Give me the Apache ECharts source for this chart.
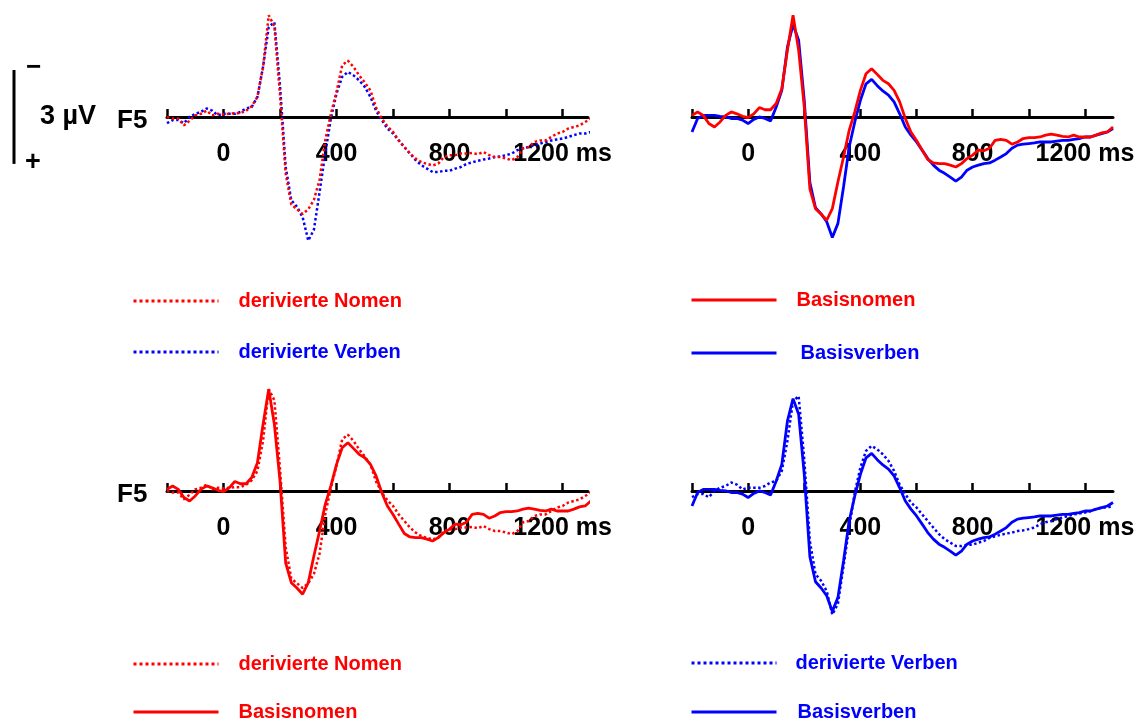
<!DOCTYPE html>
<html><head><meta charset="utf-8">
<script src="https://cdn.jsdelivr.net/npm/echarts@6/dist/echarts.min.js"></script>
<style>html,body{margin:0;padding:0;background:#fff}#c{width:1142px;height:724px}</style>
</head><body><div id="c"></div>
<script>
// time in ms
const times = [-200,-180,-160,-140,-120,-100,-80,-60,-40,-20,0,20,40,60,80,100,120,140,160,180,
  200,220,240,260,280,300,320,340,360,380,400,420,440,460,480,500,520,540,560,580,
  600,620,640,660,680,700,720,740,760,780,800,820,840,860,880,900,920,940,960,980,
  1000,1020,1040,1060,1080,1100,1120,1140,1160,1180,1200,1220,1240,1260,1280,1300];
// amplitudes in µV (negative up)
const derivedNouns = [0.0,0.05,0.05,0.27,0.12,-0.05,-0.1,-0.2,-0.05,-0.1,-0.08,-0.1,-0.12,-0.12,-0.2,-0.34,-0.64,-1.6,-3.25,-2.9,
  -0.7,1.8,2.8,2.95,3.1,2.95,2.65,2.0,0.75,-0.1,-0.8,-1.65,-1.8,-1.6,-1.33,-1.1,-0.85,-0.3,0.05,0.3,
  0.48,0.75,0.96,1.17,1.33,1.44,1.5,1.55,1.49,1.28,1.22,1.22,1.17,1.17,1.15,1.19,1.12,1.22,1.28,1.28,
  1.33,1.38,1.28,1.0,0.96,0.8,0.75,0.75,0.64,0.53,0.48,0.37,0.32,0.27,0.16,0.05];
const derivedVerbs = [0.2,0.1,0.1,0.2,0.0,-0.1,-0.16,-0.27,-0.2,-0.05,-0.1,-0.1,-0.1,-0.16,-0.27,-0.32,-0.64,-1.6,-2.87,-3.03,
  -1.0,1.6,2.66,2.87,3.2,3.95,3.6,2.4,1.17,0.05,-0.75,-1.28,-1.44,-1.33,-1.17,-0.96,-0.64,-0.2,0.1,0.37,
  0.53,0.75,0.96,1.17,1.38,1.54,1.65,1.76,1.76,1.72,1.72,1.65,1.6,1.5,1.45,1.4,1.36,1.33,1.28,1.26,
  1.22,1.17,1.06,1.0,0.96,0.9,0.85,0.8,0.75,0.72,0.69,0.64,0.58,0.53,0.53,0.48];
const baseNouns = [-0.05,-0.16,-0.05,0.21,0.32,0.16,-0.05,-0.16,-0.1,-0.02,0.02,-0.1,-0.3,-0.23,-0.23,-0.43,-0.9,-2.13,-3.25,-2.13,
  -0.32,2.3,2.93,3.1,3.3,2.93,2.07,1.28,0.43,-0.16,-0.85,-1.38,-1.54,-1.36,-1.17,-1.06,-0.85,-0.48,0.05,0.48,
  0.75,1.06,1.36,1.47,1.49,1.49,1.54,1.6,1.49,1.33,1.22,1.06,1.08,1.0,0.75,0.72,0.75,0.87,0.8,0.69,
  0.66,0.66,0.64,0.58,0.55,0.58,0.62,0.64,0.58,0.64,0.64,0.64,0.58,0.51,0.48,0.32];
const baseVerbs = [0.48,0.05,-0.05,-0.05,-0.05,-0.02,0.0,0.05,0.05,0.1,0.21,0.08,0.0,0.05,0.13,-0.32,-0.85,-2.23,-2.95,-2.45,
  -0.53,2.1,2.9,3.1,3.35,3.85,3.4,2.23,0.96,0.16,-0.53,-1.06,-1.2,-1.0,-0.83,-0.7,-0.48,-0.1,0.32,0.58,
  0.8,1.06,1.33,1.54,1.7,1.8,1.92,2.05,1.92,1.7,1.6,1.54,1.49,1.47,1.38,1.28,1.17,1.0,0.9,0.87,
  0.85,0.83,0.8,0.8,0.8,0.77,0.75,0.75,0.72,0.69,0.64,0.64,0.58,0.53,0.48,0.37];

const seriesNames = {dn:'derivierte Nomen', dv:'derivierte Verben', bn:'Basisnomen', bv:'Basisverben'};
const tickValues = [-200,0,200,400,600,800,1000,1200];
const labelValues = [0,400,800,1200];
const labelTexts = ['0','400','800','1200 ms'];
const channelName = 'F5';
const scaleText = '3 µV';
const scaleRange = [-1.5, 1.5];

const RED = '#ff0000', BLUE = '#0000ff';
const FONT = "'Liberation Sans', Arial, sans-serif";
const pair = arr => times.map((t, i) => [t, arr[i]]);

const chart = echarts.init(document.getElementById('c'), null, {renderer: 'canvas'});

const grids = [
  {left: 167, top: 7.4, width: 421, height: 250.4},
  {left: 692, top: 7.4, width: 421, height: 250.4},
  {left: 167, top: 381.4, width: 421, height: 250.4},
  {left: 692, top: 381.4, width: 421, height: 250.4}
];
const xMax = [1290, 1300, 1290, 1300];

const xAxes = grids.map((g, i) => ({
  gridIndex: i, type: 'value', min: -200, max: xMax[i],
  axisLine: {onZero: false, lineStyle: {color: '#000', width: 3}},
  axisTick: {inside: true, length: 8, customValues: tickValues, lineStyle: {color: '#000', width: 2.5}},
  axisLabel: {customValues: labelValues, margin: 25, color: '#000', fontSize: 25, fontWeight: 'bold', fontFamily: FONT,
    formatter: v => labelTexts[labelValues.indexOf(v)] || ''},
  splitLine: {show: false}
}));
const yAxes = grids.map((g, i) => ({
  gridIndex: i, type: 'value', inverse: true, min: -3.5, max: 4.5, show: false
}));

function ln(name, arr, panel, color, dotted) {
  return {
    type: 'line', name, data: pair(arr), xAxisIndex: panel, yAxisIndex: panel,
    symbol: 'none', animation: false, silent: true, clip: true,
    lineStyle: {color, width: dotted ? 2.5 : 2.8, type: dotted ? 'dotted' : 'solid'},
    itemStyle: {color}
  };
}

const series = [
  ln(seriesNames.dv, derivedVerbs, 0, BLUE, true),
  ln(seriesNames.dn, derivedNouns, 0, RED, true),
  ln(seriesNames.bv, baseVerbs, 1, BLUE, false),
  ln(seriesNames.bn, baseNouns, 1, RED, false),
  ln(seriesNames.dn, derivedNouns, 2, RED, true),
  ln(seriesNames.bn, baseNouns, 2, RED, false),
  ln(seriesNames.dv, derivedVerbs, 3, BLUE, true),
  ln(seriesNames.bv, baseVerbs, 3, BLUE, false)
];

function legend(left, top, gap, items) {
  return {
    left, top, height: 120, padding: 0, orient: 'vertical', itemGap: gap, itemWidth: 85, itemHeight: 14,
    selectedMode: false,
    itemStyle: {color: 'rgba(0,0,0,0)', borderWidth: 0, opacity: 0},
    lineStyle: {width: 3},
    data: items.map(([name, color, pad]) => ({name, textStyle: {color, padding: [0, 0, 0, pad]}})),
    textStyle: {fontSize: 20, lineHeight: 20, fontWeight: 'bold', fontFamily: FONT}
  };
}

chart.setOption({
  backgroundColor: '#fff',
  animation: false,
  grid: grids,
  xAxis: xAxes,
  yAxis: yAxes,
  legend: [
    legend(132, 291, 31, [[seriesNames.dn, RED, 15], [seriesNames.dv, BLUE, 15]]),
    legend(690, 290, 33, [[seriesNames.bn, RED, 15], [seriesNames.bv, BLUE, 19]]),
    legend(132, 654, 28, [[seriesNames.dn, RED, 15], [seriesNames.bn, RED, 15]]),
    legend(690, 653, 29, [[seriesNames.dv, BLUE, 14], [seriesNames.bv, BLUE, 16]])
  ],
  series
});

// move each time axis onto the zero line of its panel, using the panel's own scale
const zeroY = grids.map((g, i) => chart.convertToPixel({gridIndex: i}, [0, 0])[1]);
chart.setOption({
  xAxis: grids.map((g, i) => ({offset: zeroY[i] - (g.top + g.height)}))
});

// scale bar & channel labels positioned from the axis scales
const ySTop = chart.convertToPixel({gridIndex: 0}, [0, scaleRange[0]])[1];
const ySBot = chart.convertToPixel({gridIndex: 0}, [0, scaleRange[1]])[1];
const txt = (x, y, text, size, align) => ({
  type: 'text', x, y, style: {text, fill: '#000', fontSize: size, fontWeight: 'bold', fontFamily: FONT,
    align: align || 'left', verticalAlign: 'middle'}
});
chart.setOption({
  graphic: [
    {type: 'line', shape: {x1: 14, y1: ySTop, x2: 14, y2: ySBot}, style: {stroke: '#000', lineWidth: 3}},
    txt(26, ySTop - 2, '−', 26),
    txt(25, ySBot - 1, '+', 27),
    txt(40, zeroY[0], scaleText, 27),
    txt(117, zeroY[0] + 4, channelName, 26),
    txt(117, zeroY[2] + 4, channelName, 26)
  ]
});
</script></body></html>
